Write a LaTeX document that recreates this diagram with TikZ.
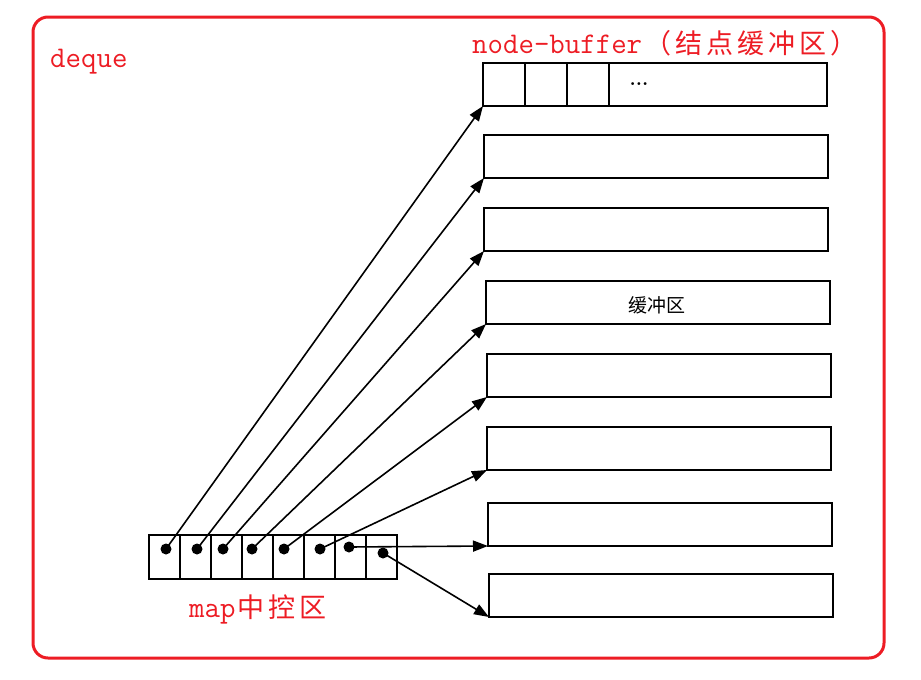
\documentclass[tikz,border=0pt]{standalone}
\usepackage{fontspec}
\newfontfamily\cjk{Noto Sans CJK SC}
\usetikzlibrary{arrows.meta}
\definecolor{fred}{RGB}{237,28,36}
\newcommand\cbox[1]{\makebox[31pt]{#1}}
\begin{document}
\begin{tikzpicture}[x=1pt,y=-1pt,
  buf/.style={draw=black,line width=1.8pt,minimum width=344pt,minimum height=43pt,inner sep=0pt,outer sep=0pt,anchor=south west},
  cell/.style={draw=black,line width=1.8pt,minimum width=31pt,minimum height=44pt,inner sep=0pt,outer sep=0pt,anchor=north west},
  dot/.style={circle,fill=black,minimum size=11pt,inner sep=0pt},
  arr/.style={line width=1.6pt,-{Triangle[length=15pt,width=11pt]}},
  redtxt/.style={text=fred,inner sep=0pt,anchor=base west,font=\ttfamily\fontsize{30}{30}\selectfont},
  cjktxt/.style={text=fred,inner sep=0pt,anchor=base west,font=\cjk\fontsize{27}{27}\selectfont}
]
\useasboundingbox (0,0) rectangle (921,680);
\draw[fred,line width=3pt,rounded corners=15pt] (33,17) rectangle (884,658);

% buffers
\node[buf] (b1) at (483,106) {};
\node[buf] (b2) at (484,178) {};
\node[buf] (b3) at (484,251) {};
\node[buf] (b4) at (486,324) {};
\node[buf] (b5) at (487,397) {};
\node[buf] (b6) at (487,470) {};
\node[buf] (b7) at (488,546) {};
\node[buf] (b8) at (489,617) {};
\draw[line width=1.8pt] (525,63) -- (525,106) (567,63) -- (567,106) (609,63) -- (609,106);
\node[inner sep=0pt,font=\bfseries\fontsize{20}{20}\selectfont] (dots) at (639,84) {...};
\node[inner sep=0pt,font=\cjk\fontsize{19}{19}\selectfont] (lab4) at (657,305) {缓冲区};

% map
\foreach \i in {1,...,8}{
  \node[cell] (m\i) at ({149+31*(\i-1)},535) {};
}
\node[dot] (d1) at (166,549) {};
\node[dot] (d2) at (197,549) {};
\node[dot] (d3) at (223,549) {};
\node[dot] (d4) at (252,549) {};
\node[dot] (d5) at (284,549) {};
\node[dot] (d6) at (320,549) {};
\node[dot] (d7) at (349,547) {};
\node[dot] (d8) at (383,553) {};

\foreach \i in {1,...,8}{
  \draw[arr] (d\i.center) -- (b\i.south west);
}

% labels
\node[redtxt] (deque) at (50,67) {deque};
\node[redtxt] (nb) at (472,53) {node-buffer};
\node[cjktxt] (nbc) at (nb.base east) {\cbox{（}\cbox{结}\cbox{点}\cbox{缓}\cbox{冲}\cbox{区}\cbox{）}};
\node[redtxt] (map) at (189,617) {map};
\node[cjktxt] (mapc) at (map.base east) {\cbox{中}\cbox{控}\cbox{区}};
\end{tikzpicture}
\end{document}
